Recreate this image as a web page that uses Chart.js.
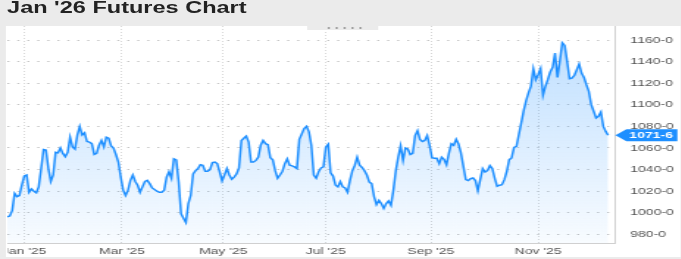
<!DOCTYPE html>
<html><head><meta charset="utf-8">
<script src="https://cdn.jsdelivr.net/npm/chart.js@4.4.1/dist/chart.umd.min.js"></script>
<style>
html,body{margin:0;padding:0;background:#ebebeb;width:681px;height:259px;overflow:hidden;}
#stage{position:absolute;left:0;top:0;width:463.3px;height:259px;transform:scaleX(1.47);transform-origin:0 0;}
#title{position:absolute;left:4.8px;top:0px;font:bold 16px/16px "Liberation Sans",Arial,sans-serif;color:#222;white-space:nowrap;}
#panel{position:absolute;left:4.1px;top:26px;width:459.2px;height:231px;background:#fff;}
#notch{position:absolute;left:208.8px;top:26px;width:48.3px;height:4px;background:#ebebeb;}
#dots{position:absolute;left:12px;top:0;width:27px;height:4px;background-image:radial-gradient(circle,#9a9a9a 0.8px,transparent 1.1px);background-size:5.4px 4px;}
#wrap{position:absolute;left:4.76px;top:26px;width:458px;height:233px;}
</style></head><body>
<div id="stage">
  <div id="title">Jan '26 Futures Chart</div>
  <div id="panel"></div>
  <div id="wrap"><canvas id="c"></canvas></div>
  <div id="notch"><div id="dots"></div></div>
</div>
<script>
// daily settlement prices (cents/bu), 20 Dec 2024 .. 12 Dec 2025
const prices = [
 996.3,997,1002,1018,1015,1016,1025.5,1034,1035,1019,
 1022,1020,1018.5,1024,1041,1058.5,1058,1041,1029,1035,
 1056,1055.5,1060,1055,1052,1056,1070,1061,1059,1072,
 1080,1072,1074,1066,1065.5,1064,1054,1055,1062.5,1067,
 1061,1070,1069,1062,1060,1054,1047,1033,1021,1016,
 1021,1030,1035,1029,1025.5,1019,1024,1029,1030,1027,
 1023,1021.5,
 1020,1019,1019,1021,1033,1038,1032,1050,1049,1028.5,
 999,995,991,1008.5,1016,1036,1039,1041,1044.5,1044,
 1038.5,1038.5,1040,1046.5,1047,1045.5,1038,1029.5,1035,1041,
 1035,1031,1033,1036,1041.5,1067,1069,1071,1065.5,1047,
 1047,1048.5,1051.5,1062.5,1067,1064,1063,1051,1049,1039,
 1032,1035,1038.5,1045.5,1050,1044,1043.5,1042.5,1041,1068,
 1073,1078,1080,
 1075,1062.5,1035,1032,1038,1041.5,1042.5,1061,1063.5,1037,
 1034,1025.5,1024,1029,1024,1023,1019,1030,1039,1044,
 1051.5,1044,1042,1039,1035,1028.5,1027,1015,1007.5,1011.5,
 1008.5,1004,1008.5,1011,1007,1021,1039,1051.5,1062,1048.5,
 1060,1059,1054,1055,1071.5,1076,1068,1066,1067,1071.5,
 1062.5,1051,1050.5,1050.5,1045.5,1051.5,1049.5,1044.5,1055,1064,
 1062.5,1068,
 1063.7,1055.4,1043,1030.7,1029.8,1031.6,1032.2,1029.8,1020.5,1030.7,
 1040.9,1037.8,1039,1043.6,1040.9,1032.2,1024.5,1025.5,1026,1030.7,
 1038.4,1049.2,1050.8,1060.6,1061.6,1072.4,1083.2,1094.6,1103.8,1111,
 1117,1133.5,1123.3,1127.9,1133.5,1108.8,1117,1123.3,1130.4,1134.7,
 1148,1125.4,1140.9,1157.5,1155,1140.2,1124.2,1124.8,1127.3,1132.5,
 1137.8,1129.4,1125.4,1118.6,1112.5,1100.1,1094,1087.8,1089.3,1093.3,
 1080,1075.4,1071.75
];
// x tick positions (trading-day index) and their labels
const xTickPos = [7, 47.5, 89.5, 132, 175.5, 220];
const xTickLabels = ["Jan '25", "Mar '25", "May '25", "Jul '25", "Sep '25", "Nov '25"];
// y tick values
const yTicks = [980, 1000, 1020, 1040, 1060, 1080, 1100, 1120, 1140, 1160];

const fmt = v => { const w = Math.floor(v); return w + '-' + Math.round((v - w) * 8); };
const FONT = '"Liberation Sans", Arial, sans-serif';

const lastTag = {
  id: 'lastTag',
  afterDraw(chart) {
    const {ctx, chartArea: a, scales: {y}} = chart;
    const v = prices[prices.length - 1];
    const py = y.getPixelForValue(v);
    const x0 = a.right, tip = 7.5, w = 34.7, h = 12;
    ctx.save();
    ctx.fillStyle = '#1e8fff';
    ctx.beginPath();
    ctx.moveTo(x0, py);
    ctx.lineTo(x0 + tip, py - h / 2);
    ctx.lineTo(x0 + tip + w, py - h / 2);
    ctx.lineTo(x0 + tip + w, py + h / 2);
    ctx.lineTo(x0 + tip, py + h / 2);
    ctx.closePath();
    ctx.fill();
    ctx.fillStyle = '#fff';
    ctx.font = 'bold 9.5px ' + FONT;
    ctx.textBaseline = 'middle';
    ctx.textAlign = 'left';
    ctx.fillText(fmt(v), x0 + 9.5, py + 0.5);
    ctx.restore();
  }
};

new Chart(document.getElementById('c'), {
  type: 'line',
  data: {
    datasets: [{
      data: prices.map((v, i) => ({x: i, y: v})),
      borderColor: '#1e8fff',
      borderWidth: 1.5,
      pointRadius: 0,
      tension: 0,
      fill: 'start',
      backgroundColor: (c) => {
        const a = c.chart.chartArea;
        if (!a) return 'rgba(30,143,255,0.15)';
        const g = c.chart.ctx.createLinearGradient(0, a.top, 0, a.bottom);
        g.addColorStop(0, 'rgba(30,143,255,0.30)');
        g.addColorStop(1, 'rgba(30,143,255,0.03)');
        return g;
      }
    }]
  },
  options: {
    responsive: true,
    maintainAspectRatio: false,
    animation: false,
    layout: {padding: 0, autoPadding: false},
    plugins: {legend: {display: false}, tooltip: {enabled: false}, title: {display: false}},
    scales: {
      x: {
        type: 'linear', min: 0, max: 252,
        afterBuildTicks: s => { s.ticks = xTickPos.map(v => ({value: v})); },
        afterFit: s => { s.height = 16; s.paddingLeft = 0; s.paddingRight = 0; },
        ticks: {
          autoSkip: false, maxRotation: 0, padding: 3, color: '#555',
          font: {family: FONT, size: 9.5},
          callback: v => { const i = xTickPos.indexOf(v); return i < 0 ? '' : xTickLabels[i]; }
        },
        grid: {color: 'rgba(0,0,0,0.16)', drawTicks: false, lineWidth: 1},
        border: {display: true, color: '#d0d0d0', dash: [1, 2]}
      },
      y: {
        position: 'right', min: 972, max: 1173,
        afterBuildTicks: s => { s.ticks = yTicks.map(v => ({value: v})); },
        afterFit: s => { s.width = 44.4; s.paddingTop = 0; s.paddingBottom = 0; },
        ticks: {padding: 10.2, color: '#555', font: {family: FONT, size: 9.5}, callback: v => fmt(v)},
        grid: {color: '#c4c4c4', drawTicks: false, lineWidth: 1},
        border: {display: true, color: '#d0d0d0', dash: [1.4, 5.4]}
      }
    }
  },
  plugins: [lastTag]
});
</script>
</body></html>
